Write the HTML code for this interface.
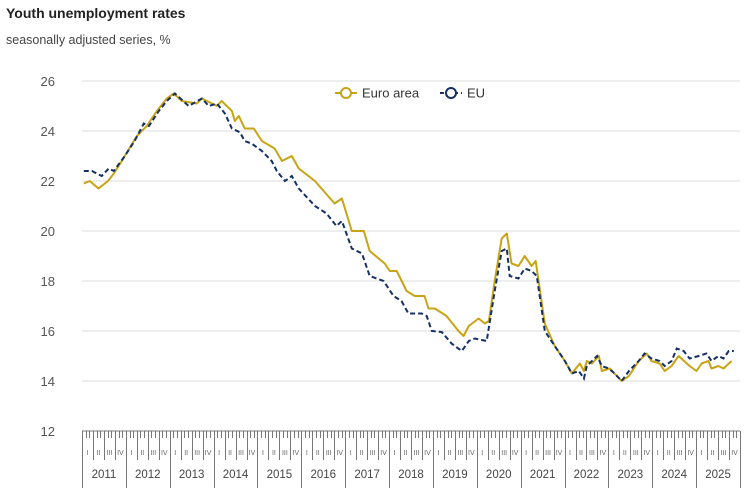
<!DOCTYPE html>
<html><head><meta charset="utf-8"><style>
body{margin:0;background:#fff;font-family:"Liberation Sans",Arial,sans-serif}
svg{display:block}
</style></head><body>
<svg id="c" width="750" height="493" xmlns="http://www.w3.org/2000/svg">
<text x="6" y="18" font-size="14" font-weight="bold" fill="#222">Youth unemployment rates</text>
<text x="6" y="44" font-size="12.5" fill="#444">seasonally adjusted series, %</text>
<g id="grid"></g><g id="xaxis"></g><g id="series"></g>
<g>
<g><line x1="335" y1="93" x2="357" y2="93" stroke="#c8a415" stroke-width="2"/><circle cx="346" cy="93" r="5" fill="#fff" stroke="#c8a415" stroke-width="2"/><text x="362" y="97.5" font-size="13" fill="#333">Euro area</text></g>
<g><line x1="440" y1="93" x2="462" y2="93" stroke="#143066" stroke-width="2" stroke-dasharray="4,3"/><circle cx="451" cy="93" r="5" fill="#fff" stroke="#143066" stroke-width="2"/><text x="467" y="97.5" font-size="13" fill="#333">EU</text></g>
</g>
</svg>
<script>
// months since Jan 2011
const eaMonths=[0,1.6,4,6.6,8.2,10.4,14.5,17.2,20,22.7,24.6,26.8,30.9,32.3,36.4,37.7,40.5,41.3,42.4,44,46.5,48.7,52.2,54.2,56.9,58.8,63.2,68.6,70.6,73.3,76.6,78.2,82.3,83.7,85.6,88.3,90.5,93.2,94.3,96,99.2,102.5,103.9,105.3,108,109.7,110.8,112.4,114.3,115.7,117,118.9,120.6,122.5,123.6,126.1,128.8,131.6,133.5,135.7,136.8,137.6,139,140.9,141.7,143.9,145.2,147.1,149.1,151.8,154,155.3,157.5,158.9,160.8,162.7,165.7,167.6,169,170.9,171.7,173.6,175,177.2];
const eaValues=[21.9,22.0,21.7,22.0,22.3,22.8,23.8,24.2,24.8,25.3,25.5,25.2,25.1,25.3,25.0,25.2,24.8,24.4,24.6,24.1,24.1,23.6,23.3,22.8,23.0,22.5,22.0,21.1,21.3,20.0,20.0,19.2,18.7,18.4,18.4,17.6,17.4,17.4,16.9,16.9,16.6,16.0,15.8,16.2,16.5,16.3,16.4,18.0,19.7,19.9,18.7,18.6,19.0,18.6,18.8,16.3,15.4,14.8,14.3,14.7,14.4,14.8,14.7,15.0,14.4,14.5,14.3,14.0,14.2,14.8,15.1,14.8,14.7,14.4,14.6,15.0,14.6,14.4,14.7,14.8,14.5,14.6,14.5,14.8];
const euMonths=[0,2.2,4.9,6.8,8.2,11.2,13.9,16.4,17.8,20.5,22.7,24.9,28.7,32.3,34.2,36.4,38.6,40.5,42.7,44,45.9,48.7,51.4,52.8,55,56.9,58.8,63.2,66.4,69.1,70.6,73.3,76.1,78.2,82,84.7,86.9,88.8,92.4,93.8,95.2,97.9,100.6,101.5,103.4,105.3,106.9,110.2,112.4,114.3,115.7,116.5,118.9,120.6,122.5,123.9,126.1,128.8,131.6,133.5,135.4,136.8,137.6,140.4,141.7,143.6,145.2,147.1,149.1,151.8,153.4,155.3,157.5,158.9,160.8,162.2,164.1,165.7,168.2,170.3,171.7,173.6,175,176.4,177.8];
const euValues=[22.4,22.4,22.2,22.5,22.4,23.0,23.6,24.3,24.2,24.8,25.2,25.5,25.0,25.3,25.0,25.1,24.7,24.1,23.95,23.6,23.5,23.2,22.8,22.4,22.0,22.2,21.7,21.0,20.7,20.2,20.4,19.3,19.1,18.2,18.0,17.4,17.2,16.7,16.7,16.6,16.0,15.96,15.5,15.4,15.2,15.6,15.7,15.6,17.6,19.2,19.3,18.2,18.1,18.5,18.4,18.2,16.0,15.4,14.8,14.3,14.4,14.1,14.6,15.0,14.6,14.5,14.3,14.0,14.4,14.8,15.1,14.9,14.8,14.6,14.8,15.3,15.2,14.9,15.0,15.1,14.8,15.0,14.9,15.2,15.2];
const yTicks=[12,14,16,18,20,22,24,26];
const years=[2011,2012,2013,2014,2015,2016,2017,2018,2019,2020,2021,2022,2023,2024,2025];
const quarters=["I","II","III","IV"];

const X0=82,X1=740,Y0=431,Y1=81,YMIN=12,YMAX=26;
const mw=(X1-X0)/(years.length*12);
const xs=m=>X0+(m+0.5)*mw;
const ys=v=>Y0-(v-YMIN)/(YMAX-YMIN)*(Y0-Y1);
const NS="http://www.w3.org/2000/svg";
function mk(tag,attrs,parent){const e=document.createElementNS(NS,tag);for(const k in attrs)e.setAttribute(k,attrs[k]);parent.appendChild(e);return e;}
const grid=document.getElementById('grid'),xa=document.getElementById('xaxis'),se=document.getElementById('series');
yTicks.forEach(t=>{
  if(t>YMIN){const l=mk('line',{x1:X0,x2:X1,y1:ys(t),y2:ys(t),stroke:'#dcdcdc','stroke-width':1},grid);
  
  }
  const tx=mk('text',{x:55,y:ys(t)+5,'text-anchor':'end','font-size':13,fill:'#555'},grid);
  tx.textContent=t;
  
  
});
const ax=mk('line',{x1:X0,x2:X1,y1:Y0,y2:Y0,stroke:'#777','stroke-width':1},xa);


for(let i=0;i<=years.length*12;i++){
  const x=Math.round(X0+i*mw)+0.5;
  const h=(i%12==0)?488:(i%3==0)?460:438;
  mk('line',{x1:x,x2:x,y1:Y0,y2:h,stroke:'#777','stroke-width':1},xa);
}
years.forEach((y,i)=>{
  const t=mk('text',{x:X0+(i+0.5)*12*mw,y:478,'text-anchor':'middle','font-size':11.5,fill:'#444'},xa);
  t.textContent=y;
  
  
  quarters.forEach((q,j)=>{
    const qt=mk('text',{x:X0+(i*12+j*3+1.5)*mw,y:455,'text-anchor':'middle','font-size':7,fill:'#666'},xa);
    qt.textContent=q;
    
    
  });
});
function path(ms,vs){return ms.map((m,i)=>(i?'L':'M')+xs(m).toFixed(1)+','+ys(vs[i]).toFixed(1)).join('');}
const p1=mk('path',{d:path(eaMonths,eaValues),fill:'none',stroke:'#c8a415','stroke-width':2,'stroke-linejoin':'round'},se);


const p2=mk('path',{d:path(euMonths,euValues),fill:'none',stroke:'#143066','stroke-width':2,'stroke-dasharray':'5,3'},se);


</script>
</body></html>
